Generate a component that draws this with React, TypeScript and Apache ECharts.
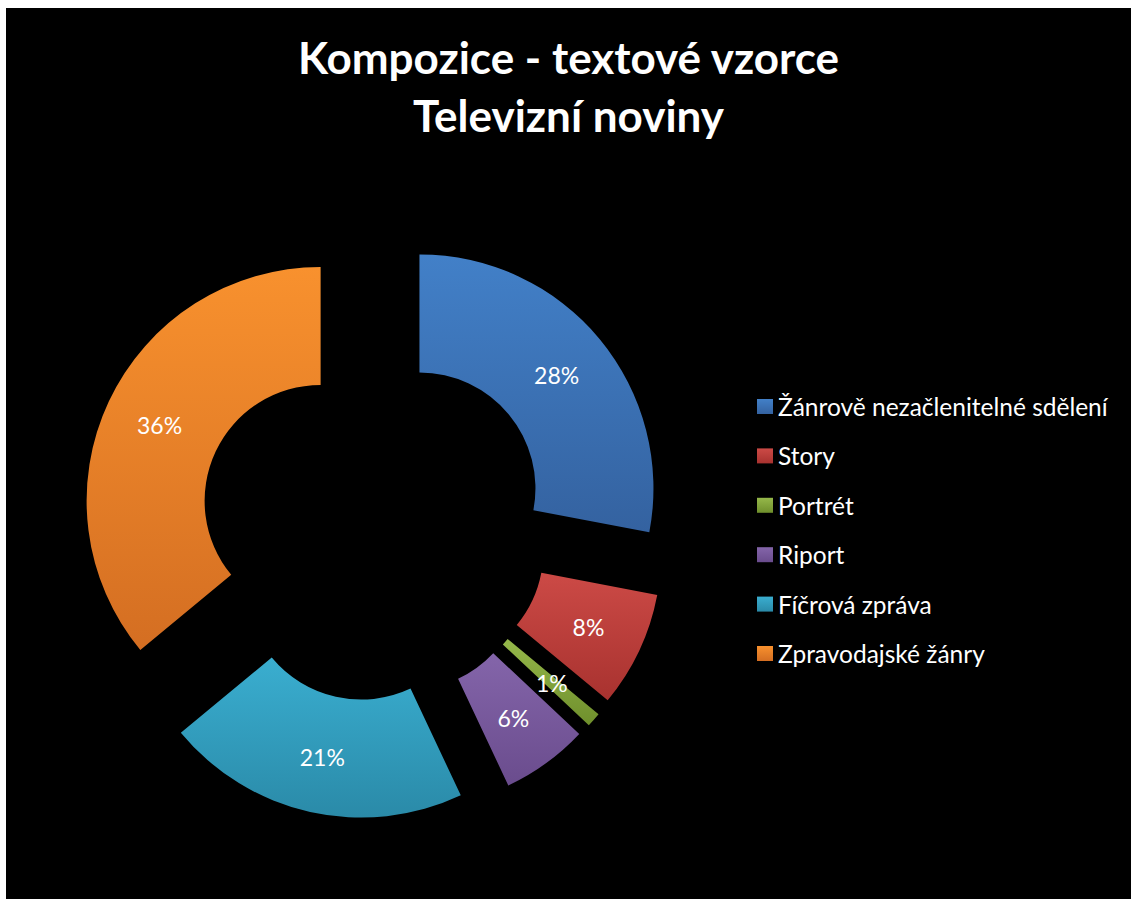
import React, { useEffect, useRef } from "react";
import * as echarts from "echarts";

const categories = [
  "Žánrově nezačlenitelné sdělení",
  "Story",
  "Portrét",
  "Riport",
  "Fíčrová zpráva",
  "Zpravodajské žánry",
];
const values = [28, 8, 1, 6, 21, 36];
const topColors = ["#4280C8", "#CC4A46", "#95B84A", "#8465AA", "#3AAED0", "#F8912E"];
const bottomColors = ["#3462A0", "#A8322F", "#6F8F2C", "#6A4C8D", "#2A8AA8", "#D46E22"];
const titleLines = ["Kompozice - textové vzorce", "Televizní noviny"];

export default function App() {
  const ref = useRef<HTMLDivElement>(null);
  useEffect(() => {
    document.body.style.margin = "0";
    const chart = echarts.init(ref.current!, null, { renderer: "svg" });
    const data = categories.map((name, i) => ({
      name,
      value: values[i],
      selected: true,
      itemStyle: {
        color: new echarts.graphic.LinearGradient(0, 0, 0, 1, [
          { offset: 0, color: topColors[i] },
          { offset: 1, color: bottomColors[i] },
        ]),
      },
    }));
    chart.setOption({
      animation: false,
      backgroundColor: "#000000",
      title: {
        text: titleLines.join("\n"),
        left: "center",
        top: 15,
        textStyle: {
          color: "#ffffff",
          fontFamily: "Lato",
          fontWeight: "bold",
          fontSize: 44,
          lineHeight: 58,
        },
      },
      legend: {
        orient: "vertical",
        left: 746,
        top: 381,
        itemWidth: 16,
        itemHeight: 15,
        itemGap: 24.4,
        icon: "rect",
        data: categories,
        selectedMode: false,
        textStyle: {
          color: "#ffffff",
          fontFamily: "Lato",
          fontSize: 24.5,
          lineHeight: 24,
        },
      },
      series: [
        {
          type: "pie",
          center: [368, 518],
          radius: [116, 234],
          startAngle: 90,
          clockwise: true,
          selectedMode: "multiple",
          selectedOffset: 59,
          avoidLabelOverlap: false,
          emphasis: { disabled: true },
          label: {
            show: true,
            position: "inside",
            formatter: "{c}%",
            color: "#ffffff",
            fontFamily: "Lato",
            fontSize: 23,
          },
          labelLine: { show: false },
          data,
        },
      ],
    });
    return () => chart.dispose();
  }, []);
  return (
    <div
      ref={ref}
      style={{ position: "absolute", left: 6, top: 8, width: 1125, height: 891 }}
    />
  );
}
